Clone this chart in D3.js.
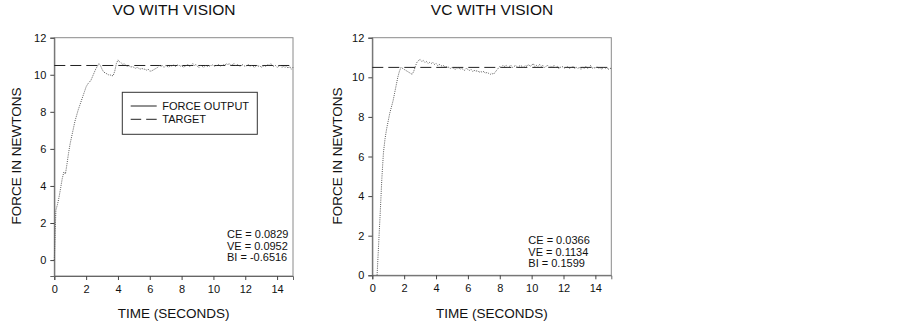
<!DOCTYPE html>
<html lang="en">
<head>
<meta charset="UTF-8">
<title>Force output with vision</title>
<script src="https://cdn.jsdelivr.net/npm/d3@7"></script>
<style>
    body { margin: 0; background: #fff; }
    svg text { font-family: "Liberation Sans", Arial, sans-serif; fill: #111; }
</style>
</head>
<body>
<div id="main_container"></div>
<script>

    var svgWidth = 903;
    var svgHeight = 322;

    // panel titles and stats
    var panelTitles = ["VO WITH VISION", "VC WITH VISION"];
    var statsVO = ["CE = 0.0829", "VE = 0.0952", "BI = -0.6516"];
    var statsVC = ["CE = 0.0366", "VE = 0.1134", "BI = 0.1599"];
    var legendLabels = ["FORCE OUTPUT", "TARGET"];

    var xTicks = [0, 2, 4, 6, 8, 10, 12, 14];
    var yTicks = [0, 2, 4, 6, 8, 10, 12];
    var targetForce = 10.5;
    var sampleStep = 0.1;

    // VO force output, sampled every 0.1 s starting at t = 0
    var startVO = 0.0;
    var forceVO = [
        0, 2.7, 3.0, 3.4, 3.9, 4.4, 4.75, 4.65, 5.2, 5.8,
        6.3, 6.7, 7.1, 7.5, 7.8, 8.1, 8.35, 8.6, 8.85, 9.1,
        9.35, 9.5, 9.6, 9.7, 9.9, 10.1, 10.3, 10.45, 10.6, 10.5,
        10.3, 10.15, 10.1, 10.05, 10.0, 10.0, 9.95, 9.95, 10.2, 10.6,
        10.8, 10.7, 10.65, 10.55, 10.6, 10.5, 10.45, 10.5, 10.4, 10.45,
        10.4, 10.35, 10.4, 10.35, 10.3, 10.35, 10.3, 10.3, 10.25, 10.3,
        10.2, 10.2, 10.25, 10.3, 10.35, 10.4, 10.5, 10.45, 10.5, 10.4,
        10.5, 10.45, 10.4, 10.5, 10.45, 10.55, 10.45, 10.5, 10.55, 10.45,
        10.5, 10.4, 10.45, 10.5, 10.55, 10.45, 10.5, 10.6, 10.5, 10.55,
        10.45, 10.4, 10.5, 10.45, 10.4, 10.5, 10.45, 10.5, 10.45, 10.55,
        10.5, 10.45, 10.5, 10.55, 10.5, 10.45, 10.55, 10.5, 10.6, 10.55,
        10.6, 10.5, 10.55, 10.6, 10.5, 10.55, 10.5, 10.45, 10.55, 10.5,
        10.45, 10.5, 10.55, 10.45, 10.5, 10.45, 10.4, 10.5, 10.45, 10.5,
        10.4, 10.45, 10.5, 10.45, 10.55, 10.5, 10.6, 10.5, 10.45, 10.5,
        10.4, 10.45, 10.5, 10.4, 10.45, 10.4, 10.45, 10.35, 10.45, 10.3,
        10.4
    ];

    // VC force output, sampled every 0.1 s starting at t = 0.3
    var startVC = 0.3;
    var forceVC = [
        0, 1.6, 3.2, 4.9, 6.2, 6.9, 7.4,
        7.8, 8.2, 8.5, 8.8, 9.2, 9.6, 10.0, 10.3, 10.5, 10.45,
        10.4, 10.35, 10.3, 10.25, 10.2, 10.15, 10.3, 10.55, 10.75, 10.85,
        10.9, 10.8, 10.85, 10.75, 10.8, 10.7, 10.75, 10.7, 10.75, 10.65,
        10.7, 10.6, 10.65, 10.6, 10.55, 10.6, 10.5, 10.55, 10.5, 10.45,
        10.5, 10.45, 10.4, 10.45, 10.5, 10.4, 10.45, 10.4, 10.35, 10.45,
        10.4, 10.35, 10.4, 10.3, 10.35, 10.3, 10.35, 10.25, 10.3, 10.25,
        10.3, 10.2, 10.25, 10.2, 10.15, 10.2, 10.15, 10.25, 10.35, 10.45,
        10.55, 10.5, 10.6, 10.55, 10.6, 10.5, 10.55, 10.6, 10.5, 10.55,
        10.6, 10.5, 10.55, 10.6, 10.55, 10.5, 10.6, 10.55, 10.65, 10.55,
        10.6, 10.7, 10.55, 10.6, 10.55, 10.65, 10.55, 10.6, 10.5, 10.55,
        10.6, 10.5, 10.55, 10.5, 10.6, 10.5, 10.55, 10.45, 10.5, 10.55,
        10.5, 10.45, 10.55, 10.5, 10.45, 10.5, 10.55, 10.45, 10.5, 10.45,
        10.5, 10.4, 10.5, 10.45, 10.55, 10.45, 10.5, 10.6, 10.45, 10.5,
        10.45, 10.55, 10.45, 10.5, 10.4, 10.5, 10.45, 10.5, 10.4, 10.45,
        10.45
    ];

    var svg = d3.select("#main_container").append("svg")
            .attr("width", svgWidth)
            .attr("height", svgHeight);

    drawPanel({
        title: panelTitles[0], titleX: 174,
        left: 54.3, right: 293, top: 37.7, bottom: 276,
        yMin: -0.86,
        start: startVO, values: forceVO,
        stats: statsVO, statsX: 227, statsY: 238,
        yLabelX: 16, legend: true
    });

    drawPanel({
        title: panelTitles[1], titleX: 492,
        left: 372.3, right: 611.3, top: 37.7, bottom: 275.3,
        yMin: 0,
        start: startVC, values: forceVC,
        stats: statsVC, statsX: 528.3, statsY: 244,
        yLabelX: 337, legend: false
    });

    function drawPanel(p) {
        var x = d3.scaleLinear().domain([0, 15]).range([p.left, p.right]);
        var y = d3.scaleLinear().domain([p.yMin, 12]).range([p.bottom, p.top]);
        var g = svg.append("g");

        // frame
        g.append("rect")
            .attr("x", p.left).attr("y", p.top)
            .attr("width", p.right - p.left).attr("height", p.bottom - p.top)
            .attr("fill", "none").attr("stroke", "#8a8a8a").attr("stroke-width", 1);

        var xAxis = g.append("g")
            .attr("transform", "translate(0," + p.bottom + ")")
            .call(d3.axisBottom(x).tickValues(xTicks).tickSize(4).tickPadding(5));
        var yAxis = g.append("g")
            .attr("transform", "translate(" + p.left + ",0)")
            .call(d3.axisLeft(y).tickValues(yTicks).tickSize(4).tickPadding(4));
        [xAxis, yAxis].forEach(function(a) {
            a.select(".domain").attr("stroke", "#666");
            a.selectAll(".tick line").attr("stroke", "#444");
            a.selectAll(".tick text").style("font-size", "11px").attr("fill", "#111");
        });

        // target
        g.append("line")
            .attr("x1", x(0)).attr("x2", x(15))
            .attr("y1", y(targetForce)).attr("y2", y(targetForce))
            .attr("stroke", "#222").attr("stroke-width", 1)
            .attr("stroke-dasharray", "11,5");

        // force trace
        var line = d3.line()
            .x(function(d, i) { return x(p.start + i * sampleStep); })
            .y(function(d) { return y(d); });
        g.append("path")
            .datum(p.values)
            .attr("d", line)
            .attr("fill", "none")
            .attr("stroke", "#555")
            .attr("stroke-width", 1)
            .attr("stroke-dasharray", "1,1.2");

        // titles
        g.append("text")
            .attr("x", p.titleX).attr("y", 15)
            .attr("text-anchor", "middle")
            .style("font-size", "15.5px")
            .text(p.title);
        g.append("text")
            .attr("x", (p.left + p.right) / 2).attr("y", 318)
            .attr("text-anchor", "middle")
            .style("font-size", "13.5px")
            .text("TIME (SECONDS)");
        g.append("text")
            .attr("transform", "translate(" + (p.yLabelX + 5) + ",156) rotate(-90)")
            .attr("text-anchor", "middle")
            .style("font-size", "13.5px")
            .text("FORCE IN NEWTONS");

        // stats
        g.selectAll(".stat").data(p.stats).enter().append("text")
            .attr("class", "stat")
            .attr("x", p.statsX)
            .attr("y", function(d, i) { return p.statsY + i * 11.6; })
            .style("font-size", "11px")
            .text(function(d) { return d; });

        if (p.legend) {
            var lg = g.append("g");
            lg.append("rect")
                .attr("x", 122.3).attr("y", 92.3)
                .attr("width", 135).attr("height", 42)
                .attr("fill", "#fff").attr("stroke", "#333").attr("stroke-width", 1);
            legendLabels.forEach(function(lab, i) {
                var ly = 106 + i * 13.3;
                lg.append("line")
                    .attr("x1", 130.7).attr("x2", 156.7)
                    .attr("y1", ly).attr("y2", ly)
                    .attr("stroke", "#222").attr("stroke-width", 1)
                    .attr("stroke-dasharray", i == 0 ? null : "10.5,5");
                lg.append("text")
                    .attr("x", 162.3).attr("y", ly + 4)
                    .style("font-size", "11px")
                    .text(lab);
            });
        }
    }
</script>
</body>
</html>
